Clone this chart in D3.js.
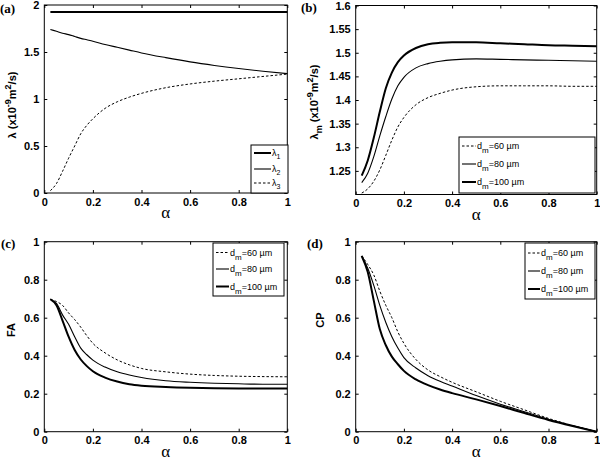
<!DOCTYPE html>
<html>
<head>
<meta charset="utf-8">
<script src="https://cdn.jsdelivr.net/npm/d3@7"></script>
<style>
body { margin: 0; background: #fff; }
text { font-family: Arial, "Liberation Sans", sans-serif; }
</style>
</head>
<body>
<div id="chart"></div>
<script>
var width = 600;
var height = 461;

// alpha grid shared by every curve
var alpha = [0.025, 0.05, 0.075, 0.1, 0.125, 0.15, 0.175, 0.2, 0.25, 0.3, 0.35, 0.4, 0.5, 0.6, 0.7, 0.8, 0.9, 1.0];

// (a) eigenvalues
var lambda1 = [1.925, 1.925, 1.925, 1.925, 1.925, 1.925, 1.925, 1.925, 1.925, 1.925, 1.925, 1.925, 1.925, 1.925, 1.925, 1.925, 1.925, 1.925];
var lambda2 = [1.74, 1.72, 1.70, 1.685, 1.665, 1.645, 1.63, 1.615, 1.58, 1.55, 1.52, 1.49, 1.44, 1.395, 1.357, 1.324, 1.295, 1.27];
var lambda3 = [0.025, 0.1, 0.23, 0.37, 0.5, 0.63, 0.72, 0.79, 0.9, 0.97, 1.02, 1.06, 1.12, 1.16, 1.19, 1.215, 1.24, 1.265];

// (b) mean diffusivity
var lm60 = [1.203, 1.212, 1.228, 1.252, 1.283, 1.315, 1.343, 1.363, 1.39, 1.405, 1.414, 1.421, 1.428, 1.43, 1.43, 1.43, 1.429, 1.429];
var lm80 = [1.225, 1.245, 1.28, 1.324, 1.365, 1.402, 1.43, 1.448, 1.468, 1.477, 1.482, 1.485, 1.487, 1.486, 1.485, 1.484, 1.483, 1.482];
var lm100 = [1.24, 1.272, 1.32, 1.375, 1.425, 1.458, 1.48, 1.494, 1.51, 1.518, 1.521, 1.522, 1.522, 1.52, 1.518, 1.516, 1.515, 1.514];

// (c) FA
var fa60 = [0.697, 0.685, 0.665, 0.625, 0.59, 0.55, 0.505, 0.465, 0.415, 0.378, 0.352, 0.333, 0.315, 0.303, 0.296, 0.292, 0.29, 0.289];
var fa80 = [0.697, 0.675, 0.615, 0.565, 0.5, 0.44, 0.405, 0.377, 0.34, 0.315, 0.298, 0.285, 0.268, 0.26, 0.255, 0.252, 0.25, 0.25];
var fa100 = [0.697, 0.665, 0.585, 0.5, 0.43, 0.38, 0.345, 0.318, 0.285, 0.264, 0.25, 0.242, 0.235, 0.231, 0.229, 0.228, 0.228, 0.228];

// (d) CP
var cp60 = [0.925, 0.88, 0.825, 0.74, 0.665, 0.6, 0.525, 0.465, 0.38, 0.325, 0.29, 0.26, 0.21, 0.16, 0.115, 0.07, 0.033, 0];
var cp80 = [0.925, 0.86, 0.77, 0.665, 0.575, 0.5, 0.44, 0.39, 0.335, 0.295, 0.265, 0.24, 0.19, 0.145, 0.105, 0.065, 0.032, 0];
var cp100 = [0.925, 0.84, 0.69, 0.54, 0.455, 0.395, 0.355, 0.32, 0.275, 0.245, 0.222, 0.203, 0.17, 0.135, 0.098, 0.062, 0.03, 0];

var xTicks = [0, 0.2, 0.4, 0.6, 0.8, 1];
var dmLabels = ["60", "80", "100"];
var lamLabels = ["1", "2", "3"];

var styles = [
    {w: 2, dash: null},
    {w: 1.1, dash: null},
    {w: 1, dash: "2.5,2"}
];
var styleDm = [styles[2], styles[1], styles[0]];

var svg = d3.select("#chart").append("svg").attr("width", width).attr("height", height);

function drawPanel(o) {
    var x = d3.scaleLinear().domain([0, 1]).range([o.x0, o.x1]);
    var y = d3.scaleLinear().domain(o.yDomain).range([o.y0, o.y1]);
    var g = svg.append("g");

    g.append("g").attr("transform", "translate(0," + o.y0 + ")")
        .call(d3.axisBottom(x).tickValues(xTicks).tickFormat(d3.format("")).tickSizeInner(-3).tickSizeOuter(0).tickPadding(5));
    g.append("g").attr("transform", "translate(0," + o.y1 + ")")
        .call(d3.axisTop(x).tickValues(xTicks).tickFormat("").tickSizeInner(-3).tickSizeOuter(0));
    g.append("g").attr("transform", "translate(" + o.x0 + ",0)")
        .call(d3.axisLeft(y).tickValues(o.yTicks).tickFormat(d3.format("")).tickSizeInner(-3).tickSizeOuter(0).tickPadding(5));
    g.append("g").attr("transform", "translate(" + o.x1 + ",0)")
        .call(d3.axisRight(y).tickValues(o.yTicks).tickFormat("").tickSizeInner(-3).tickSizeOuter(0));

    g.selectAll(".domain").remove();
    g.selectAll(".tick line").attr("stroke", "#000");
    g.selectAll(".tick text").attr("font-family", "Arial, 'Liberation Sans', sans-serif")
        .attr("font-size", 11).attr("font-weight", "bold").attr("fill", "#000");

    g.append("rect").attr("x", o.x0).attr("y", o.y1).attr("width", o.x1 - o.x0).attr("height", o.y0 - o.y1)
        .attr("fill", "none").attr("stroke", "#000").attr("stroke-width", 1);

    var line = d3.line().x(function(d, i) { return x(alpha[i]); }).y(function(d) { return y(d); }).curve(d3.curveMonotoneX);

    o.series.forEach(function(s, i) {
        g.append("path").datum(s).attr("d", line).attr("fill", "none").attr("stroke", "#000")
            .attr("stroke-width", o.styles[i].w).attr("stroke-dasharray", o.styles[i].dash);
    });

    // x label
    g.append("text").attr("x", (o.x0 + o.x1) / 2).attr("y", o.y0 + 25)
        .attr("text-anchor", "middle").style("font-family", "'Liberation Serif', 'DejaVu Serif', serif")
        .attr("font-size", 17).text("α");

    // panel tag
    g.append("text").attr("x", o.tag[0]).attr("y", o.tag[1])
        .style("font-family", "'Liberation Serif', 'DejaVu Serif', serif")
        .attr("font-size", 13).attr("font-weight", "bold").text(o.tagText);

    // y label
    var yl = g.append("text").attr("transform", "translate(" + o.yl[0] + "," + o.yl[1] + ") rotate(-90)")
        .attr("text-anchor", "middle").attr("font-size", 11).attr("font-weight", "bold");
    o.ylab(yl);

    // legend
    var L = o.legend;
    g.append("rect").attr("x", L.x).attr("y", L.y).attr("width", L.w).attr("height", L.h)
        .attr("fill", "#fff").attr("stroke", "#000").attr("stroke-width", 1);
    L.labels.forEach(function(lab, i) {
        var ly = L.rows[i];
        g.append("line").attr("x1", L.x + 3).attr("x2", L.x + 3 + L.len).attr("y1", ly).attr("y2", ly)
            .attr("stroke", "#000").attr("stroke-width", o.styles[i].w).attr("stroke-dasharray", o.styles[i].dash);
        var t = g.append("text").attr("x", L.x + 4 + L.len).attr("y", ly + 3).attr("font-size", L.fs);
        L.make(t, lab);
    });
}

function supLabel(t, head, sub) {
    t.append("tspan").text(head);
    if (sub) t.append("tspan").attr("font-size", 9).attr("dy", 4).text(sub);
    t.append("tspan").attr("dy", sub ? -4 : 0).text(" (x10");
    t.append("tspan").attr("font-size", 9).attr("dy", -5).text("-9");
    t.append("tspan").attr("dy", 5).text("m");
    t.append("tspan").attr("font-size", 9).attr("dy", -5).text("2");
    t.append("tspan").attr("dy", 5).text("/s)");
}

function dmText(t, lab) {
    t.append("tspan").text("d");
    t.append("tspan").attr("dy", 4).attr("font-size", 8).text("m");
    t.append("tspan").attr("dy", -4).text("=" + lab + " µm");
}

function lamText(t, lab) {
    t.append("tspan").text("λ");
    t.append("tspan").attr("dy", 3).attr("font-size", 7).text(lab);
}

drawPanel({
    x0: 44.3, x1: 287.3, y0: 193, y1: 5, yDomain: [0, 2], yTicks: [0, 0.5, 1, 1.5, 2],
    series: [lambda1, lambda2, lambda3], styles: styles,
    tag: [0, 13], tagText: "(a)", yl: [16, 105],
    ylab: function(t) { supLabel(t, "λ", null); },
    legend: {x: 251, y: 145, w: 37, h: 48, rows: [153, 169, 183], len: 17, fs: 9, labels: lamLabels, make: lamText}
});

drawPanel({
    x0: 355.7, x1: 596.7, y0: 194.5, y1: 5.5, yDomain: [1.2, 1.6], yTicks: [1.25, 1.3, 1.35, 1.4, 1.45, 1.5, 1.55, 1.6],
    series: [lm60, lm80, lm100], styles: styleDm,
    tag: [301, 12], tagText: "(b)", yl: [318, 102],
    ylab: function(t) { supLabel(t, "λ", "m"); },
    legend: {x: 459, y: 137, w: 136, h: 56, rows: [146, 164, 182], len: 14, fs: 9, labels: dmLabels, make: dmText}
});

drawPanel({
    x0: 44.3, x1: 287.3, y0: 431.7, y1: 241.7, yDomain: [0, 1], yTicks: [0, 0.2, 0.4, 0.6, 0.8, 1],
    series: [fa60, fa80, fa100], styles: styleDm,
    tag: [1, 248], tagText: "(c)", yl: [15, 330],
    ylab: function(t) { t.text("FA"); },
    legend: {x: 213, y: 243, w: 71, h: 53, rows: [252.5, 269, 286.5], len: 13, fs: 9, labels: dmLabels, make: dmText}
});

drawPanel({
    x0: 355.7, x1: 596.7, y0: 431.7, y1: 241.7, yDomain: [0, 1], yTicks: [0, 0.2, 0.4, 0.6, 0.8, 1],
    series: [cp60, cp80, cp100], styles: styleDm,
    tag: [307, 248], tagText: "(d)", yl: [324, 320],
    ylab: function(t) { t.text("CP"); },
    legend: {x: 525, y: 243, w: 70, h: 56, rows: [253, 271, 289], len: 12, fs: 9, labels: dmLabels, make: dmText}
});
</script>
</body>
</html>
